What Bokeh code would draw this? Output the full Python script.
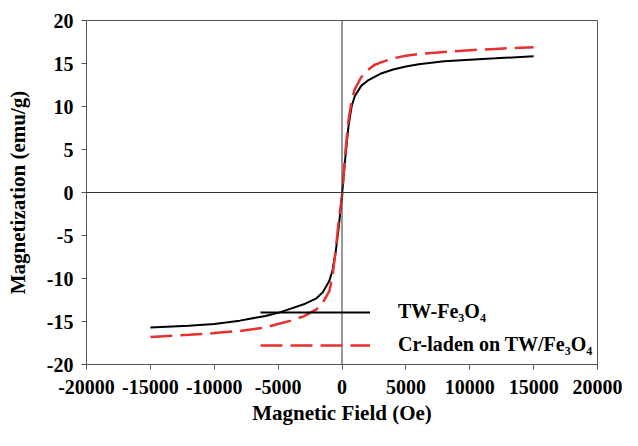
from bokeh.plotting import figure
from bokeh.models import Span, Legend, LegendItem, FixedTicker, PrintfTickFormatter
from bokeh.embed import file_html
from bokeh.resources import INLINE

# TW-Fe3O4 (black, solid)
field_tw = [-15000, -12000, -10000, -8000, -6000, -5000, -4000, -3000, -2000, -1500,
            -1000, -750, -500, -250, 0, 250, 500, 750, 1000, 1500, 2000, 3000, 4000,
            5000, 6000, 8000, 10000, 12000, 15000]
mag_tw = [-15.7, -15.5, -15.3, -14.9, -14.35, -14.0, -13.5, -13.0, -12.3, -11.6,
          -10.3, -9.1, -7.0, -4.0, -0.3, 3.9, 7.6, 10.0, 11.2, 12.4, 13.0, 13.8, 14.3,
          14.65, 14.9, 15.25, 15.45, 15.6, 15.85]

# Cr-laden on TW/Fe3O4 (red, dashed)
field_cr = [-15000, -12000, -10000, -8000, -6000, -5000, -4000, -3000, -2000, -1500,
            -1000, -750, -500, -250, 0, 250, 500, 750, 1000, 1500, 2000, 2500, 3000,
            4000, 5000, 6000, 8000, 10000, 12000, 15000]
mag_cr = [-16.8, -16.55, -16.35, -16.1, -15.7, -15.3, -14.9, -14.4, -13.6, -12.8,
          -11.5, -9.8, -6.8, -3.2, -0.5, 4.5, 8.3, 10.6, 12.0, 13.4, 14.2, 14.8, 15.1,
          15.6, 15.9, 16.1, 16.35, 16.55, 16.7, 16.9]

x_ticks = [-20000, -15000, -10000, -5000, 0, 5000, 10000, 15000, 20000]
y_ticks = [-20, -15, -10, -5, 0, 5, 10, 15, 20]

label_tw = "TW-Fe\u2083O\u2084"
label_cr = "Cr-laden on TW/Fe\u2083O\u2084"

FONT = "Liberation Serif"
AXIS_COL = "#555555"

p = figure(width=622, height=430, x_range=(-20000, 20000), y_range=(-20, 20),
           output_backend="svg", toolbar_location=None,
           min_border_left=86, min_border_right=25, min_border_top=20,
           min_border_bottom=66)

p.xgrid.visible = False
p.ygrid.visible = False
p.outline_line_color = AXIS_COL
p.outline_line_width = 1

for ax in (p.xaxis[0], p.yaxis[0]):
    ax.axis_line_color = AXIS_COL
    ax.major_tick_line_color = AXIS_COL
    ax.minor_tick_line_color = None
    ax.major_tick_out = 5
    ax.major_tick_in = 0
    ax.major_label_text_font = FONT
    ax.major_label_text_font_style = "bold"
    ax.major_label_text_font_size = "20px"
    ax.major_label_text_color = "black"
    ax.axis_label_text_font = FONT
    ax.axis_label_text_font_style = "bold"
    ax.axis_label_text_font_size = "21px"
    ax.axis_label_text_color = "black"
    ax.formatter = PrintfTickFormatter(format="%d")

p.xaxis.ticker = FixedTicker(ticks=x_ticks)
p.yaxis.ticker = FixedTicker(ticks=y_ticks)
p.xaxis.axis_label = "Magnetic Field (Oe)"
p.yaxis.axis_label = "Magnetization (emu/g)"
p.xaxis.major_label_standoff = 10
p.xaxis.axis_label_standoff = 4
p.yaxis.major_label_standoff = 8
p.yaxis.axis_label_standoff = 14

p.add_layout(Span(location=0, dimension="width", line_color="#333333", line_width=1))
p.add_layout(Span(location=0, dimension="height", line_color="#333333", line_width=1))

r_tw = p.line(field_tw, mag_tw, line_color="black", line_width=2)
r_cr = p.line(field_cr, mag_cr, line_color="#e8302f", line_width=2.5, line_dash="22 8")

legend = Legend(items=[LegendItem(label=label_tw, renderers=[r_tw]),
                       LegendItem(label=label_cr, renderers=[r_cr])],
                location=(174, 8), orientation="vertical",
                glyph_width=110, glyph_height=20, label_height=20,
                label_standoff=28, spacing=10, padding=0, margin=0,
                border_line_color=None, background_fill_alpha=0,
                label_text_font=FONT, label_text_font_style="bold",
                label_text_font_size="20px", label_text_color="black")
p.add_layout(legend)

open("out.html", "w").write(file_html(p, INLINE))
